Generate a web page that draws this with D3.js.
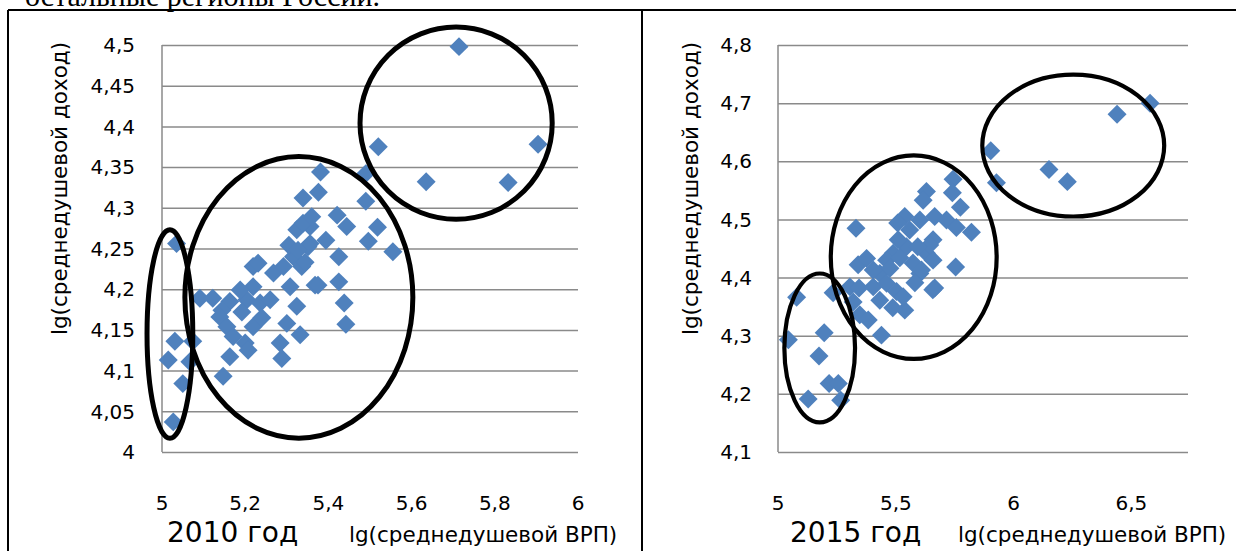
<!DOCTYPE html>
<html lang="ru">
  <head>
    <meta charset="UTF-8" />
    <title>lg ВРП и доход</title>
    <style>
      body {
        margin: 0;
        background: #fff;
      }
      svg text {
        font-family: "DejaVu Sans", sans-serif;
        fill: #000;
      }
    </style>
  </head>
  <body>
    <div id="viz"></div>
    <script src="https://cdnjs.cloudflare.com/ajax/libs/d3/7.8.5/d3.min.js"></script>
    <script>
      // 2010: lg(среднедушевой ВРП) / lg(среднедушевой доход)
      let grp2010 = [5.035, 5.015, 5.031, 5.074, 5.067, 5.050, 5.027, 5.091, 5.122, 5.147,
        5.163, 5.163, 5.144, 5.139, 5.156, 5.171, 5.200, 5.207, 5.219, 5.204,
        5.219, 5.236, 5.219, 5.231, 5.268, 5.292, 5.316, 5.324, 5.356, 5.356,
        5.336, 5.308, 5.324, 5.300, 5.332, 5.284, 5.288, 5.368, 5.339, 5.339,
        5.360, 5.381, 5.376, 5.490, 5.490, 5.421, 5.444, 5.518, 5.496, 5.555,
        5.351, 5.425, 5.375, 5.425, 5.438, 5.442, 5.260, 5.192, 5.240, 5.188,
        5.305, 5.327, 5.394, 5.344, 5.714, 5.520, 5.904, 5.635, 5.832];
      let inc2010 = [4.256, 4.113, 4.136, 4.136, 4.111, 4.084, 4.037, 4.189, 4.189, 4.093,
        4.117, 4.185, 4.174, 4.166, 4.154, 4.142, 4.134, 4.125, 4.154, 4.187,
        4.203, 4.183, 4.228, 4.232, 4.220, 4.228, 4.240, 4.273, 4.277, 4.256,
        4.228, 4.203, 4.179, 4.158, 4.144, 4.134, 4.115, 4.205, 4.312, 4.281,
        4.289, 4.344, 4.319, 4.342, 4.308, 4.291, 4.277, 4.276, 4.259, 4.246,
        4.252, 4.240, 4.205, 4.209, 4.183, 4.157, 4.187, 4.172, 4.165, 4.199,
        4.254, 4.248, 4.260, 4.233, 4.498, 4.375, 4.378, 4.332, 4.331];

      // 2015
      let grp2015 = [5.079, 5.044, 5.196, 5.174, 5.128, 5.217, 5.256, 5.266, 5.234, 5.305,
        5.340, 5.376, 5.347, 5.383, 5.439, 5.319, 5.344, 5.404, 5.432, 5.461,
        5.503, 5.538, 5.531, 5.489, 5.545, 5.573, 5.602, 5.630, 5.658, 5.559,
        5.510, 5.461, 5.404, 5.657, 5.331, 5.538, 5.508, 5.602, 5.630, 5.616,
        5.665, 5.715, 5.743, 5.740, 5.774, 5.821, 5.757, 5.754, 5.665, 5.658,
        5.644, 5.609, 5.475, 5.581, 5.517, 5.432, 5.487, 5.593, 6.579, 6.439,
        5.903, 5.927, 6.150, 6.228];
      let inc2015 = [4.366, 4.293, 4.305, 4.265, 4.191, 4.218, 4.218, 4.189, 4.374, 4.384,
        4.422, 4.433, 4.336, 4.327, 4.301, 4.358, 4.382, 4.384, 4.407, 4.390,
        4.376, 4.344, 4.367, 4.442, 4.453, 4.425, 4.407, 4.442, 4.465, 4.482,
        4.465, 4.430, 4.413, 4.379, 4.485, 4.505, 4.494, 4.499, 4.548, 4.533,
        4.505, 4.499, 4.569, 4.546, 4.521, 4.478, 4.486, 4.418, 4.382, 4.430,
        4.456, 4.413, 4.416, 4.391, 4.434, 4.361, 4.348, 4.453, 4.700, 4.681,
        4.618, 4.563, 4.586, 4.565];

      let xTicks2010 = [5, 5.2, 5.4, 5.6, 5.8, 6];
      let yTicks2010 = [4, 4.05, 4.1, 4.15, 4.2, 4.25, 4.3, 4.35, 4.4, 4.45, 4.5];
      let xTicks2015 = [5, 5.5, 6, 6.5];
      let yTicks2015 = [4.1, 4.2, 4.3, 4.4, 4.5, 4.6, 4.7, 4.8];

      // groups circled on the charts (centre and radii in data units)
      let groups2010 = [
        { cx: 5.019, cy: 4.145, rx: 0.055, ry: 0.128 },
        { cx: 5.329, cy: 4.190, rx: 0.274, ry: 0.173 },
        { cx: 5.707, cy: 4.404, rx: 0.231, ry: 0.118 }
      ];
      let groups2015 = [
        { cx: 5.177, cy: 4.279, rx: 0.150, ry: 0.128 },
        { cx: 5.576, cy: 4.435, rx: 0.352, ry: 0.175 },
        { cx: 6.253, cy: 4.627, rx: 0.386, ry: 0.122 }
      ];

      let ru = d3.formatLocale({ decimal: ",", thousands: "\u00a0", grouping: [3], currency: ["", ""] });
      let fmt = ru.format("~g");

      let width = 1236,
          height = 551;

      let svg = d3.select("#viz")
        .append("svg")
        .attr("width", width)
        .attr("height", height);

      // document text line above the table, cut by the top edge
      svg.append("text")
        .attr("x", 25)
        .attr("y", 6)
        .style("font-family", "'Liberation Serif', serif")
        .style("font-size", "30px")
        .text("остальные регионы России.");

      // table borders
      svg.append("line").attr("x1", 8).attr("x2", width).attr("y1", 10).attr("y2", 10)
        .attr("stroke", "#000").attr("stroke-width", 2);
      svg.append("line").attr("x1", 8).attr("x2", 8).attr("y1", 10).attr("y2", height)
        .attr("stroke", "#000").attr("stroke-width", 2);
      svg.append("line").attr("x1", 642).attr("x2", 642).attr("y1", 10).attr("y2", height)
        .attr("stroke", "#000").attr("stroke-width", 2);

      drawPanel({
        xs: grp2010, ys: inc2010,
        xDomain: [5, 6], yDomain: [4, 4.5],
        xRange: [162, 578], yRange: [452, 45],
        xTicks: xTicks2010, yTicks: yTicks2010,
        groups: groups2010, ringWidth: 5,
        tickRight: 135, yTitleX: 59,
        year: "2010 год", yearX: 167, titleX: 349
      });

      drawPanel({
        xs: grp2015, ys: inc2015,
        xDomain: [5, 6.74], yDomain: [4.1, 4.8],
        xRange: [778, 1188], yRange: [452, 45],
        xTicks: xTicks2015, yTicks: yTicks2015,
        groups: groups2015, ringWidth: 4.2,
        tickRight: 752, yTitleX: 690,
        year: "2015 год", yearX: 790, titleX: 958
      });

      function drawPanel(c) {
        let x = d3.scaleLinear().domain(c.xDomain).range(c.xRange);
        let y = d3.scaleLinear().domain(c.yDomain).range(c.yRange);
        let g = svg.append("g");

        // horizontal gridlines
        g.append("g")
          .attr("transform", `translate(${c.xRange[0]}, 0)`)
          .call(d3.axisLeft(y).tickValues(c.yTicks).tickSize(-(c.xRange[1] - c.xRange[0])).tickFormat(""))
          .call(a => a.select(".domain").remove())
          .selectAll("line")
          .attr("stroke", "#8a8a8a")
          .attr("stroke-width", 1.5);

        // left axis line
        g.append("line")
          .attr("x1", c.xRange[0]).attr("x2", c.xRange[0])
          .attr("y1", c.yRange[1]).attr("y2", c.yRange[0])
          .attr("stroke", "#8a8a8a")
          .attr("stroke-width", 1.5);

        // y tick labels
        g.selectAll(".ylab")
          .data(c.yTicks)
          .join("text")
          .attr("class", "ylab")
          .attr("x", c.tickRight)
          .attr("y", d => y(d))
          .attr("dy", "0.36em")
          .attr("text-anchor", "end")
          .style("font-size", "20px")
          .text(d => fmt(d));

        // x tick labels
        g.selectAll(".xlab")
          .data(c.xTicks)
          .join("text")
          .attr("class", "xlab")
          .attr("x", d => x(d))
          .attr("y", 510)
          .attr("text-anchor", "middle")
          .style("font-size", "20px")
          .text(d => fmt(d));

        // y axis title
        g.append("text")
          .attr("transform", `translate(${c.yTitleX}, ${(c.yRange[0] + c.yRange[1]) / 2 - 60}) rotate(-90)`)
          .attr("text-anchor", "middle")
          .attr("dy", "0.35em")
          .style("font-size", "21.5px")
          .text("lg(среднедушевой доход)");

        // x axis title and year
        g.append("text")
          .attr("x", c.yearX)
          .attr("y", 542)
          .style("font-size", "28px")
          .text(c.year);

        g.append("text")
          .attr("x", c.titleX)
          .attr("y", 542)
          .style("font-size", "21.5px")
          .text("lg(среднедушевой ВРП)");

        // points
        let diamond = d3.symbol().type(d3.symbolSquare).size(180);
        g.selectAll(".pt")
          .data(d3.range(c.xs.length))
          .join("path")
          .attr("class", "pt")
          .attr("d", diamond)
          .attr("transform", i => `translate(${x(c.xs[i])}, ${y(c.ys[i])}) rotate(45)`)
          .attr("fill", "#4f81bd");

        // circled groups
        g.selectAll(".ring")
          .data(c.groups)
          .join("ellipse")
          .attr("class", "ring")
          .attr("cx", d => x(d.cx))
          .attr("cy", d => y(d.cy))
          .attr("rx", d => x(d.cx + d.rx) - x(d.cx))
          .attr("ry", d => y(d.cy) - y(d.cy + d.ry))
          .attr("fill", "none")
          .attr("stroke", "#000")
          .attr("stroke-width", c.ringWidth);
      }
    </script>
  </body>
</html>
